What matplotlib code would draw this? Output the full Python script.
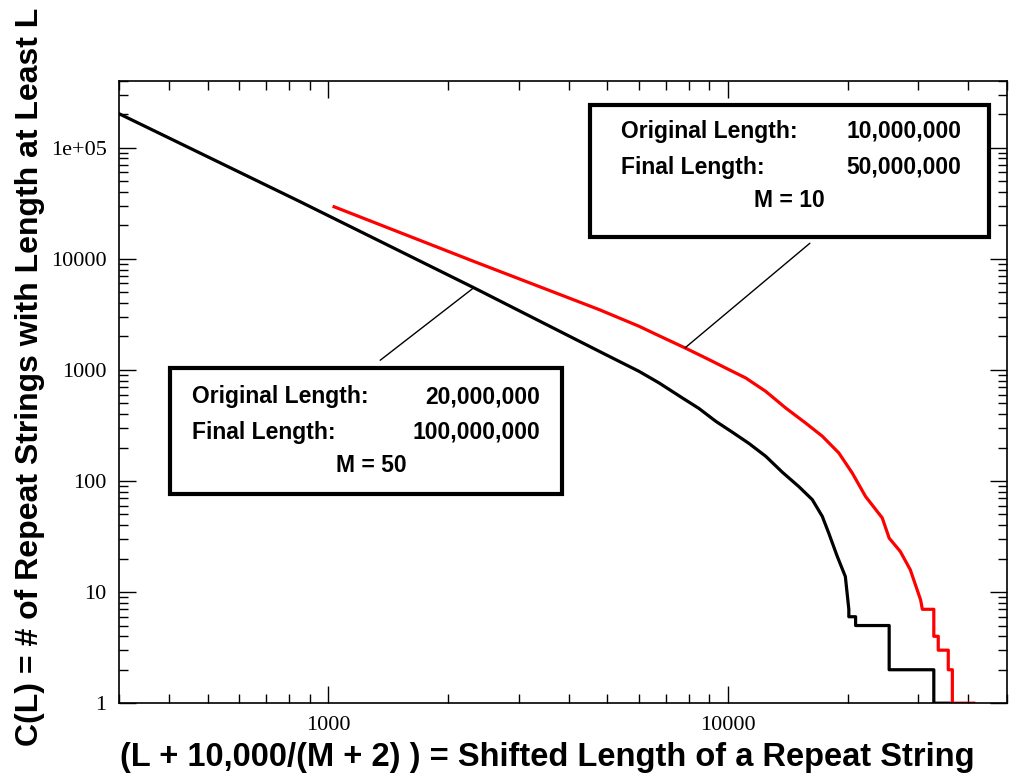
import matplotlib as mpl
mpl.use('Agg')
import matplotlib.pyplot as plt
from matplotlib.patches import Rectangle
from matplotlib.ticker import LogLocator, FixedLocator, FixedFormatter, NullFormatter

# black curve: original 20,000,000 -> final 100,000,000, M = 50
black_x = [300, 846, 2318, 4767, 5346, 5998, 6731, 7697, 8472, 9333, 10270,
           11300, 12450, 13700, 15070, 16280, 17250, 17900, 18800, 19700,
           20100, 20100, 20900, 20900, 25360, 25360, 32800, 32800, 35800]
black_y = [202000, 33000, 5480, 1471, 1195, 971, 764, 560, 450, 345, 275,
           218, 167, 120, 89, 68, 48, 34, 21, 13.8,
           7, 6, 6, 5, 5, 2, 2, 1, 1]

# red curve: original 10,000,000 -> final 50,000,000, M = 10
red_x = [1035, 2318, 4767, 5346, 5998, 6731, 7820, 8974, 10270, 11090, 12450,
         13960, 15660, 17250, 18970, 20500, 22130, 24370, 25360, 27040, 28640,
         30400, 30700, 32800, 32800, 33650, 33650, 35650, 35650, 36500, 36500, 41300]
red_y = [29400, 9460, 3490, 2938, 2472, 2030, 1578, 1239, 971, 847, 641,
         455, 333, 253, 179, 118, 72.6, 46.5, 30.6, 23.2, 15.9,
         8.5, 7, 7, 4, 4, 3, 3, 2, 2, 1, 1]

y_ticks = [1, 10, 100, 1000, 10000, 100000]
y_labels = ['1', '10', '100', '1000', '10000', '1e+05']
x_ticks = [1000, 10000]
x_labels = ['1000', '10000']

fig = plt.figure(figsize=(10.1, 7.77), dpi=100)
ax = fig.add_axes([0.118, 0.095, 0.879, 0.801])

ax.plot(black_x, black_y, color='black', lw=2.3)
ax.plot(red_x, red_y, color='red', lw=2.3)

ax.set_xscale('log')
ax.set_yscale('log')
ax.set_xlim(300, 50000)
ax.set_ylim(1, 4e5)

ax.xaxis.set_major_locator(FixedLocator(x_ticks))
ax.xaxis.set_major_formatter(FixedFormatter(x_labels))
ax.yaxis.set_major_locator(FixedLocator(y_ticks))
ax.yaxis.set_major_formatter(FixedFormatter(y_labels))
ax.xaxis.set_minor_locator(LogLocator(base=10, subs=range(2, 10)))
ax.yaxis.set_minor_locator(LogLocator(base=10, subs=range(2, 10)))
ax.xaxis.set_minor_formatter(NullFormatter())
ax.yaxis.set_minor_formatter(NullFormatter())

ax.tick_params(which='both', direction='in', top=True, right=True, width=1)
ax.tick_params(which='major', length=12, pad=9)
ax.tick_params(which='minor', length=6.5)
for lab in ax.get_xticklabels() + ax.get_yticklabels():
    lab.set_fontfamily('Liberation Serif')
    lab.set_fontsize(16)
for s in ax.spines.values():
    s.set_linewidth(1.2)

ax.set_xlabel('(L + 10,000/(M + 2) ) = Shifted Length of a Repeat String',
              family='Liberation Sans', fontweight='bold', fontsize=23.5, va='center')
ax.xaxis.set_label_coords(0.4825, -0.087)
ax.set_ylabel('C(L) = # of Repeat Strings with Length at Least L',
              family='Liberation Sans', fontweight='bold', fontsize=23, va='center')
ax.yaxis.set_label_coords(-0.100, 0.525)

# annotation boxes (axes fraction)
tkw = dict(transform=ax.transAxes, family='Liberation Sans', fontweight='bold',
           fontsize=16.5, va='center', zorder=6)

ax.add_patch(Rectangle((0.530, 0.749), 0.450, 0.212, transform=ax.transAxes,
                       facecolor='white', edgecolor='black', lw=3, zorder=5))
ax.text(0.565, 0.919, 'Original Length:', ha='left', **tkw)
ax.text(0.949, 0.919, '10,000,000', ha='right', **tkw)
ax.text(0.565, 0.861, 'Final Length:', ha='left', **tkw)
ax.text(0.949, 0.861, '50,000,000', ha='right', **tkw)
ax.text(0.755, 0.807, 'M = 10', ha='center', **tkw)

ax.add_patch(Rectangle((0.057, 0.336), 0.442, 0.202, transform=ax.transAxes,
                       facecolor='white', edgecolor='black', lw=3, zorder=5))
ax.text(0.082, 0.492, 'Original Length:', ha='left', **tkw)
ax.text(0.474, 0.492, '20,000,000', ha='right', **tkw)
ax.text(0.082, 0.435, 'Final Length:', ha='left', **tkw)
ax.text(0.474, 0.435, '100,000,000', ha='right', **tkw)
ax.text(0.284, 0.382, 'M = 50', ha='center', **tkw)

# leader lines
ax.annotate('', xy=(7820, 1578), xycoords='data', xytext=(0.778, 0.739),
            textcoords='axes fraction',
            arrowprops=dict(arrowstyle='-', color='black', lw=1, shrinkA=0, shrinkB=0))
ax.annotate('', xy=(2318, 5510), xycoords='data', xytext=(0.294, 0.551),
            textcoords='axes fraction',
            arrowprops=dict(arrowstyle='-', color='black', lw=1, shrinkA=0, shrinkB=0))

plt.savefig('out.png', dpi=100)
plt.close()
